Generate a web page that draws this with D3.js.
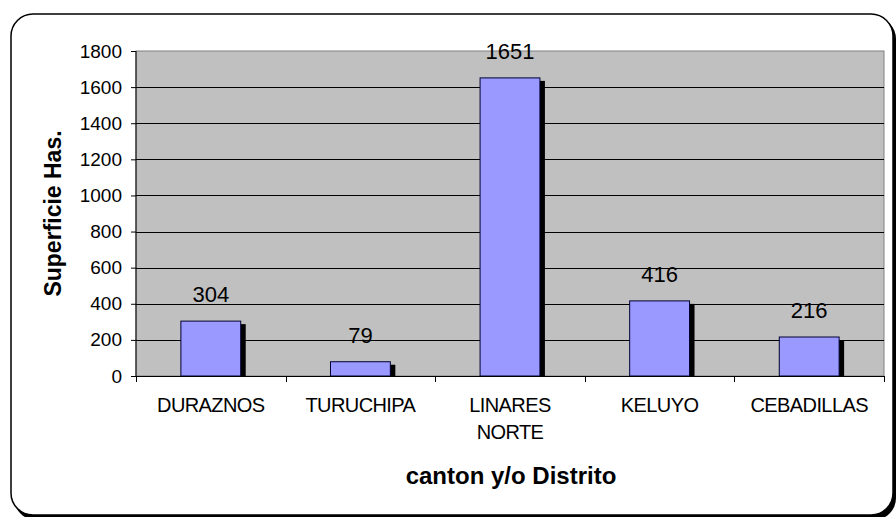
<!DOCTYPE html>
<html>
<head>
<meta charset="utf-8">
<script src="https://cdn.jsdelivr.net/npm/d3@7"></script>
<style>
  body { margin: 0; background: #fff; }
  svg { display: block; font-family: "Liberation Sans", Arial, sans-serif; }
</style>
</head>
<body>
<div id="chart"></div>
<script>
// data
var categories = ["DURAZNOS", "TURUCHIPA", "LINARES NORTE", "KELUYO", "CEBADILLAS"];
var labelLines = [["DURAZNOS"], ["TURUCHIPA"], ["LINARES", "NORTE"], ["KELUYO"], ["CEBADILLAS"]];
var values = [304, 79, 1651, 416, 216];
var yTicks = [0, 200, 400, 600, 800, 1000, 1200, 1400, 1600, 1800];

var width = 896, height = 517,
    margin = {top: 51, left: 136, right: 12, bottom: 141};

var svg = d3.select("#chart").append("svg")
    .attr("width", width)
    .attr("height", height);

// outer rounded frame with shadow
svg.append("rect")
    .attr("x", 14).attr("y", 17)
    .attr("width", 882).attr("height", 503)
    .attr("rx", 22).attr("ry", 22)
    .style("fill", "#000");
svg.append("rect")
    .attr("x", 11).attr("y", 14)
    .attr("width", 882).attr("height", 501)
    .attr("rx", 22).attr("ry", 22)
    .style("fill", "#fff")
    .style("stroke", "#000")
    .style("stroke-width", 1.5);

var x = d3.scaleBand()
    .domain(categories)
    .range([margin.left, width - margin.right])
    .paddingInner(0.6)
    .paddingOuter(0.3);

var xOuter = d3.scaleBand()
    .domain(categories)
    .range([margin.left, width - margin.right]);

var y = d3.scaleLinear()
    .domain([0, 1800])
    .range([height - margin.bottom, margin.top]);

// plot background
svg.append("rect")
    .attr("x", margin.left)
    .attr("y", y(1800))
    .attr("width", width - margin.right - margin.left)
    .attr("height", y(0) - y(1800))
    .style("fill", "#c0c0c0")
    .style("stroke", "#808080")
    .style("stroke-width", 1);

// gridlines
svg.append("g")
    .selectAll("line")
    .data(yTicks.filter(function (d) { return d > 0 && d < 1800; }))
    .enter().append("line")
    .attr("x1", margin.left)
    .attr("x2", width - margin.right)
    .attr("y1", function (d) { return Math.round(y(d)) + 0.5; })
    .attr("y2", function (d) { return Math.round(y(d)) + 0.5; })
    .style("stroke", "#000")
    .style("stroke-width", 1);

// bar shadows
svg.append("g")
    .selectAll("rect")
    .data(values)
    .enter().append("rect")
    .attr("x", function (d, i) { return x(categories[i]) + 5; })
    .attr("y", function (d) { return y(d) + 3; })
    .attr("width", x.bandwidth())
    .attr("height", function (d) { return y(0) - y(d) - 3; })
    .style("fill", "#000");

// bars
svg.append("g")
    .selectAll("rect")
    .data(values)
    .enter().append("rect")
    .attr("x", function (d, i) { return x(categories[i]); })
    .attr("y", function (d) { return y(d); })
    .attr("width", x.bandwidth())
    .attr("height", function (d) { return y(0) - y(d); })
    .style("fill", "#9999ff")
    .style("stroke", "#000033")
    .style("stroke-width", 1);

// value labels
svg.append("g")
    .selectAll("text")
    .data(values)
    .enter().append("text")
    .attr("x", function (d, i) { return x(categories[i]) + x.bandwidth() / 2; })
    .attr("y", function (d) { return y(d) - 19; })
    .attr("text-anchor", "middle")
    .style("font-size", "22px")
    .style("fill", "#000")
    .text(function (d) { return d; });

// y axis
var yAxis = d3.axisLeft(y).tickValues(yTicks).tickSize(5).tickPadding(9)
    .tickFormat(d3.format("d"));
var gy = svg.append("g")
    .attr("transform", "translate(" + margin.left + ",0)")
    .attr("font-family", null)
    .call(yAxis);
gy.attr("font-family", null).attr("font-size", null);
gy.selectAll("text").style("font-size", "19px").style("fill", "#000");
gy.selectAll(".tick line").style("stroke", "#000");
gy.select(".domain").style("stroke", "#000").attr("d", "M0," + y(1800) + "V" + (y(0) + 0.5));

// x axis line and boundary ticks
svg.append("line")
    .attr("x1", margin.left).attr("x2", width - margin.right)
    .attr("y1", y(0) + 0.5).attr("y2", y(0) + 0.5)
    .style("stroke", "#000");
svg.append("g")
    .selectAll("line")
    .data(categories.concat(["end"]))
    .enter().append("line")
    .attr("x1", function (d, i) { return Math.round(margin.left + i * xOuter.step()) + 0.5; })
    .attr("x2", function (d, i) { return Math.round(margin.left + i * xOuter.step()) + 0.5; })
    .attr("y1", y(0))
    .attr("y2", y(0) + 6)
    .style("stroke", "#000");

// x category labels
var xl = svg.append("g")
    .selectAll("text")
    .data(labelLines)
    .enter().append("text")
    .attr("x", function (d, i) { return xOuter(categories[i]) + xOuter.bandwidth() / 2; })
    .attr("y", 412)
    .attr("text-anchor", "middle")
    .style("font-size", "20px")
    .style("letter-spacing", "-0.6px")
    .style("fill", "#000");
xl.selectAll("tspan")
    .data(function (d) { return d; })
    .enter().append("tspan")
    .attr("x", function () { return d3.select(this.parentNode).attr("x"); })
    .attr("dy", function (d, i) { return i === 0 ? 0 : 27; })
    .text(function (d) { return d; });

// axis titles
svg.append("text")
    .attr("transform", "translate(61," + ((y(0) + y(1800)) / 2) + ") rotate(-90)")
    .attr("text-anchor", "middle")
    .style("font-size", "23px")
    .style("font-weight", "bold")
    .text("Superficie Has.");

svg.append("text")
    .attr("x", 511)
    .attr("y", 484)
    .attr("text-anchor", "middle")
    .style("font-size", "24px")
    .style("font-weight", "bold")
    .text("canton y/o Distrito");
</script>
</body>
</html>
